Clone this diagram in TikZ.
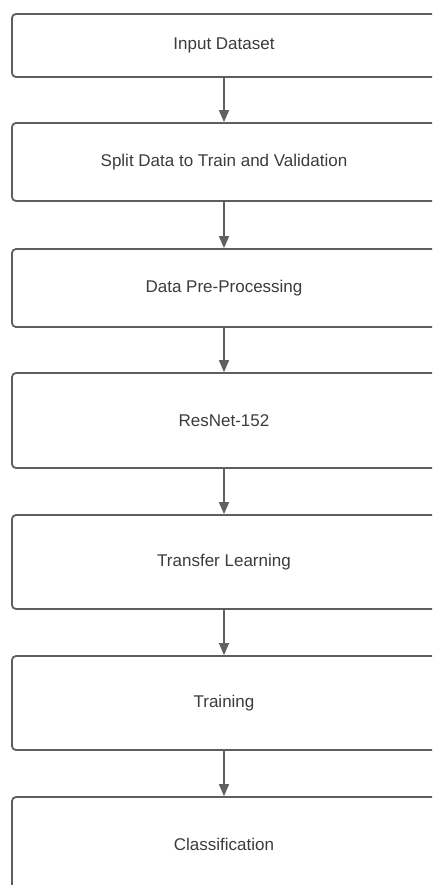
\documentclass[tikz,border=0pt]{standalone}
\usepackage{fontspec}
\setmainfont{Liberation Sans}
\usetikzlibrary{arrows.meta}
\definecolor{edgegray}{HTML}{5E5E5E}
\definecolor{txtgray}{HTML}{3C3C3C}
\definecolor{arrgray}{HTML}{606060}
\begin{document}
\begin{tikzpicture}[x=1pt,y=1pt,
  stepbox/.style={draw=edgegray, line width=1.8pt, rounded corners=4pt, fill=white,
    minimum width=424pt, inner sep=0pt, text=txtgray,
    font=\fontsize{17}{20}\selectfont},
  flowarrow/.style={draw=arrgray, line width=1.4pt,
    -{Triangle[width=10pt,length=12pt]}}
]
\useasboundingbox (0,0) rectangle (432,-885);
\clip (0,0) rectangle (432,-885);
\fill[white] (0,0) rectangle (432,-885);
\node[stepbox, minimum height=63pt] (n1) at (224,-45.5) {Input Dataset};
\node[stepbox, minimum height=78pt] (n2) at (224,-162) {Split Data to Train and Validation};
\node[stepbox, minimum height=78pt] (n3) at (224,-288) {Data Pre-Processing};
\node[stepbox, minimum height=95pt] (n4) at (224,-420.5) {ResNet-152};
\node[stepbox, minimum height=94pt] (n5) at (224,-562) {Transfer Learning};
\node[stepbox, minimum height=94pt] (n6) at (224,-703) {Training};
\node[stepbox, minimum height=94pt] (n7) at (224,-844) {Classification};
\draw[flowarrow] (n1) -- (n2);
\draw[flowarrow] (n2) -- (n3);
\draw[flowarrow] (n3) -- (n4);
\draw[flowarrow] (n4) -- (n5);
\draw[flowarrow] (n5) -- (n6);
\draw[flowarrow] (n6) -- (n7);
\end{tikzpicture}
\end{document}
